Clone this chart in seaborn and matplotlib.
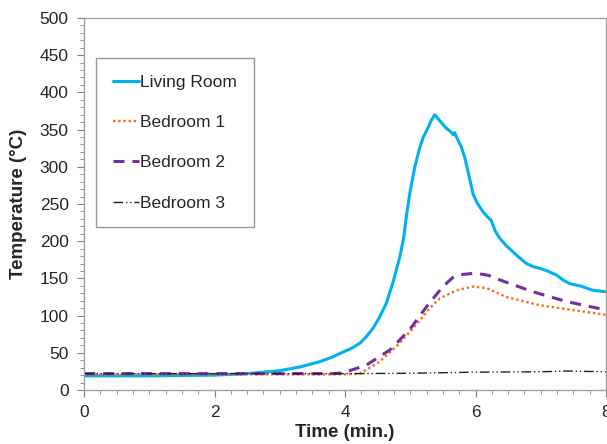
import pandas as pd
import matplotlib.pyplot as plt
import seaborn as sns
from matplotlib.ticker import MultipleLocator

# Living Room
t_living = [0.0, 0.5, 1.0, 1.5, 2.0, 2.5, 3.0, 3.31, 3.61, 3.8, 3.97, 4.1, 4.23, 4.33,
            4.43, 4.53, 4.63, 4.73, 4.84, 4.9, 4.94, 5.0, 5.07, 5.14, 5.2, 5.27, 5.32,
            5.375, 5.45, 5.55, 5.62, 5.66, 5.68, 5.72, 5.78, 5.83, 5.9, 5.96, 6.02,
            6.11, 6.18, 6.24, 6.3, 6.37, 6.47, 6.57, 6.67, 6.78, 6.88, 6.98, 7.1,
            7.24, 7.34, 7.44, 7.6, 7.8, 8.0]
T_living = [19, 19, 19, 19.5, 20, 22, 26, 31, 38, 44, 51, 56, 63, 72,
            83, 98, 116, 143, 179, 205, 233, 268, 300, 324, 340, 352, 362,
            370, 362, 352, 347, 343, 346, 338, 327, 314, 288, 264, 252,
            240, 233, 228, 214, 204, 194, 186, 178, 170, 166, 163.5, 160,
            154.6, 148, 143, 140, 134, 132]

# Bedroom 1
t_bed1 = [0.0, 1.0, 2.0, 3.0, 4.0, 4.23, 4.53, 4.84, 5.15, 5.3, 5.45, 5.71, 5.96, 6.17,
          6.47, 6.98, 7.49, 8.0]
T_bed1 = [21, 21, 21, 21, 21, 22, 38, 63, 94, 110, 123, 134, 139, 137,
          125, 114, 107.5, 101]

# Bedroom 2
t_bed2 = [0.0, 1.0, 2.0, 3.0, 3.8, 3.97, 4.33, 4.69, 4.99, 5.25, 5.5, 5.65, 5.76, 6.01,
          6.2, 6.37, 6.88, 7.39, 8.0]
T_bed2 = [22, 22, 22, 22, 22, 23, 33.6, 54, 81, 112, 139, 151, 155, 157,
          154, 148, 132, 119, 107.5]

# Bedroom 3
t_bed3 = [0.0, 1.0, 2.0, 3.0, 4.0, 5.0, 6.0, 7.0, 7.4, 8.0]
T_bed3 = [22, 22, 22, 22, 22, 22.5, 24, 24.5, 25.5, 24.5]

sns.set_style("white")
plt.rcParams['font.family'] = ['Liberation Sans', 'DejaVu Sans']

fig = plt.figure(figsize=(6.07, 4.44), dpi=100)
ax = fig.add_axes([0.1384, 0.1216, 0.8600, 0.838])

series = [
    ("Living Room", t_living, T_living, "#00B0F0", "-", 2.2),
    ("Bedroom 1", t_bed1, T_bed1, "#FF6A13", (0, (1, 1.2)), 1.7),
    ("Bedroom 2", t_bed2, T_bed2, "#7030A0", (0, (3.6, 2.6)), 2.2),
    ("Bedroom 3", t_bed3, T_bed3, "#222222", (0, (7, 2, 1, 2, 1, 2)), 1.0),
]
for name, tx, ty, color, ls, lw in series:
    df = pd.DataFrame({"t": tx, "T": ty})
    sns.lineplot(data=df, x="t", y="T", ax=ax, color=color, linestyle=ls,
                 linewidth=lw, label=name)

ax.set_xlim(0, 8)
ax.set_ylim(0, 500)
ax.xaxis.set_major_locator(MultipleLocator(2))
ax.xaxis.set_minor_locator(MultipleLocator(0.25))
ax.yaxis.set_major_locator(MultipleLocator(50))
ax.yaxis.set_minor_locator(MultipleLocator(10))
ax.tick_params(axis='both', which='major', direction='out', length=5, width=0.8,
               color='#808080', labelsize=12.5, pad=6, bottom=True, left=True)
ax.tick_params(axis='both', which='minor', direction='out', length=3, width=0.6,
               color='#808080', bottom=True, left=True)
for s in ax.spines.values():
    s.set_color('#A0A0A0')
    s.set_linewidth(1.0)

ax.set_xlabel("Time (min.)", fontsize=13.5, fontweight='bold', labelpad=3)
ax.set_ylabel("Temperature (°C)", fontsize=13.5, fontweight='bold', labelpad=9)

leg = ax.legend(loc='upper left', bbox_to_anchor=(0.023, 0.892), borderaxespad=0,
                fontsize=12.5, frameon=True, fancybox=False, edgecolor='#808080',
                handlelength=1.55, handletextpad=0.05, labelspacing=1.45,
                borderpad=0.95)
leg.get_frame().set_linewidth(1.0)

fig.savefig("out.png", dpi=100)
